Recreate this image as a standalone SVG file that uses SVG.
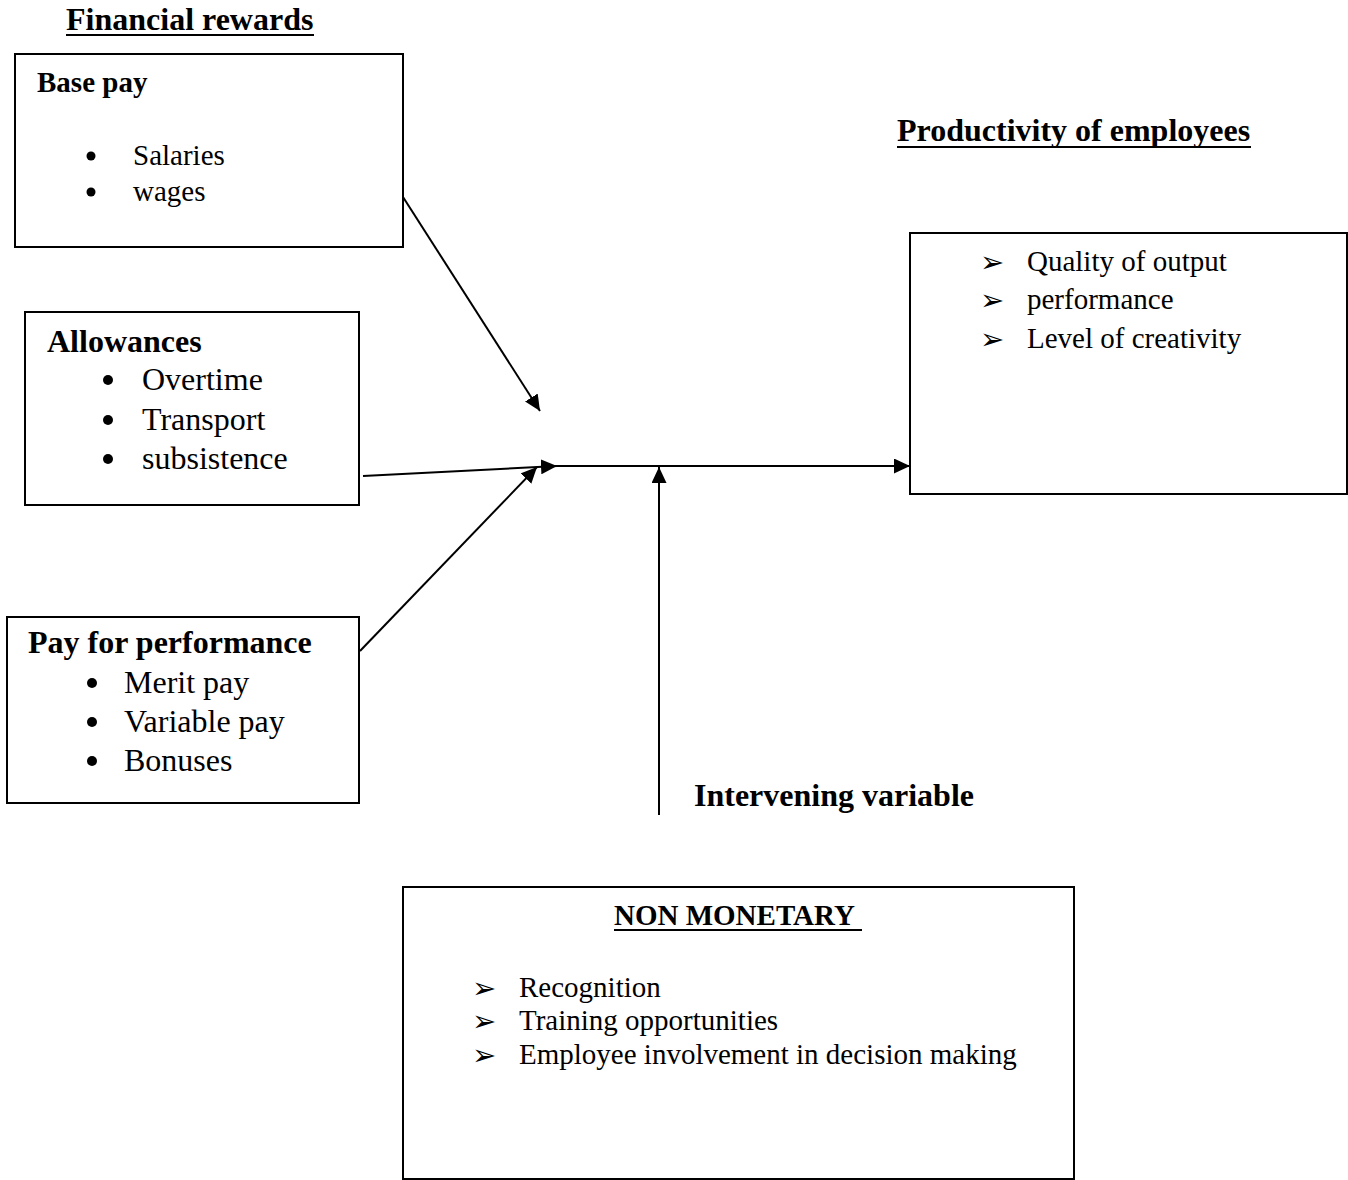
<svg xmlns="http://www.w3.org/2000/svg" width="1348" height="1180" viewBox="0 0 1348 1180">
<defs>
<style>
.box{fill:#fff;stroke:#000;stroke-width:2}
.t{font-family:"Liberation Serif","Times New Roman",serif;fill:#000}
.b{font-weight:bold}
.ul{stroke:#000;stroke-width:2}
.dot{fill:#000}
.arr{font-family:"DejaVu Sans",sans-serif;font-size:29px;fill:#000}
.conn{stroke:#000;stroke-width:2;fill:none}
</style>
<marker id="ah" markerUnits="userSpaceOnUse" markerWidth="17" markerHeight="15" refX="16" refY="7.5" orient="auto">
<path d="M0,0 L16,7.5 L0,15 z" fill="#000"/>
</marker>
</defs>
<rect width="1348" height="1180" fill="#fff"/>

<g id="title-financial">
<text class="t b" x="66" y="30" font-size="32">Financial rewards</text>
<line class="ul" x1="66" y1="35" x2="314" y2="35"/>
</g>

<g id="base-pay">
<rect class="box" x="15" y="54" width="388" height="193"/>
<text class="t b" x="37" y="92" font-size="29">Base pay</text>
<circle class="dot" cx="91" cy="156" r="4.5"/>
<text class="t" x="133" y="165" font-size="29">Salaries</text>
<circle class="dot" cx="91" cy="192" r="4.5"/>
<text class="t" x="133" y="201" font-size="29">wages</text>
</g>

<g id="allowances">
<rect class="box" x="25" y="312" width="334" height="193"/>
<text class="t b" x="47" y="352" font-size="32">Allowances</text>
<circle class="dot" cx="108" cy="380" r="5"/>
<text class="t" x="142" y="390" font-size="32">Overtime</text>
<circle class="dot" cx="108" cy="420" r="5"/>
<text class="t" x="142" y="430" font-size="32">Transport</text>
<circle class="dot" cx="108" cy="459" r="5"/>
<text class="t" x="142" y="469" font-size="32">subsistence</text>
</g>

<g id="pay-for-performance">
<rect class="box" x="7" y="617" width="352" height="186"/>
<text class="t b" x="28" y="653" font-size="32">Pay for performance</text>
<circle class="dot" cx="92" cy="683" r="5"/>
<text class="t" x="124" y="693" font-size="32">Merit pay</text>
<circle class="dot" cx="92" cy="722" r="5"/>
<text class="t" x="124" y="732" font-size="32">Variable pay</text>
<circle class="dot" cx="92" cy="761" r="5"/>
<text class="t" x="124" y="771" font-size="32">Bonuses</text>
</g>

<g id="title-productivity">
<text class="t b" x="897" y="141" font-size="32">Productivity of employees</text>
<line class="ul" x1="897" y1="147" x2="1251" y2="147"/>
</g>

<g id="productivity">
<rect class="box" x="910" y="233" width="437" height="261"/>
<text class="arr" x="980" y="272">➢</text>
<text class="t" x="1027" y="271" font-size="29">Quality of output</text>
<text class="arr" x="980" y="310">➢</text>
<text class="t" x="1027" y="309" font-size="29">performance</text>
<text class="arr" x="980" y="349">➢</text>
<text class="t" x="1027" y="348" font-size="29">Level of creativity</text>
</g>

<g id="intervening-label">
<text class="t b" x="694" y="806" font-size="32">Intervening variable</text>
</g>

<g id="non-monetary">
<rect class="box" x="403" y="887" width="671" height="292"/>
<text class="t b" x="614" y="925" font-size="29">NON MONETARY</text>
<line class="ul" x1="614" y1="930" x2="862" y2="930"/>
<text class="arr" x="472" y="998">➢</text>
<text class="t" x="519" y="997" font-size="29">Recognition</text>
<text class="arr" x="472" y="1031">➢</text>
<text class="t" x="519" y="1030" font-size="29">Training opportunities</text>
<text class="arr" x="472" y="1065">➢</text>
<text class="t" x="519" y="1064" font-size="29">Employee involvement in decision making</text>
</g>

<g id="connectors">
<line class="conn" x1="403" y1="197" x2="540" y2="411" marker-end="url(#ah)"/>
<line class="conn" x1="363" y1="476" x2="557" y2="466" marker-end="url(#ah)"/>
<line class="conn" x1="360" y1="651" x2="537" y2="467" marker-end="url(#ah)"/>
<line class="conn" x1="555" y1="466" x2="910" y2="466" marker-end="url(#ah)"/>
<line class="conn" x1="659" y1="815" x2="659" y2="467" marker-end="url(#ah)"/>
</g>
</svg>
